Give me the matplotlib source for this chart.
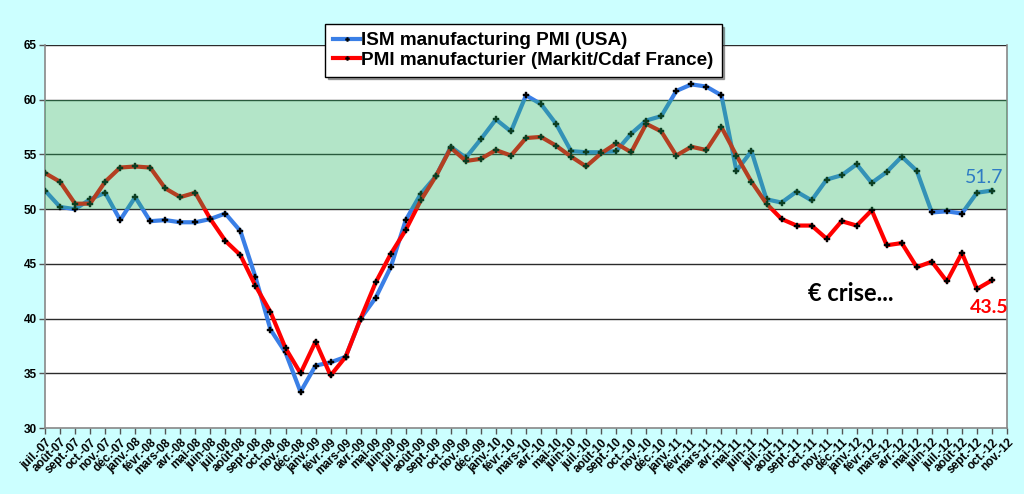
import matplotlib.pyplot as plt
import numpy as np

# month labels (French abbreviations as on the chart)
month_names = ["janv.", "févr.", "mars", "avr.", "mai", "juin",
               "juil.", "août", "sept.", "oct.", "nov.", "déc."]
tick_labels = []
for year in range(7, 13):
    for m in range(12):
        if (year == 7 and m < 6) or (year == 12 and m > 10):
            continue
        name = month_names[m]
        tick_labels.append(name + "-" + "%02d" % year)

# ISM manufacturing PMI (USA), juil.-07 .. oct.-12
ism_usa = [51.7, 50.2, 50.0, 50.9, 51.5, 49.0, 51.1, 48.9, 49.0, 48.8,
           48.8, 49.1, 49.6, 48.0, 43.8, 39.0, 36.9, 33.3, 35.7, 36.0,
           36.5, 40.0, 41.9, 44.7, 49.0, 51.4, 53.0, 55.7, 54.7, 56.4,
           58.2, 57.1, 60.4, 59.6, 57.8, 55.3, 55.2, 55.2, 55.3, 56.9,
           58.1, 58.5, 60.8, 61.4, 61.2, 60.4, 53.5, 55.3, 50.9, 50.6,
           51.6, 50.8, 52.7, 53.1, 54.1, 52.4, 53.4, 54.8, 53.5, 49.7,
           49.8, 49.6, 51.5, 51.7]

# PMI manufacturier France (Markit/Cdaf)
pmi_france = [53.3, 52.5, 50.5, 50.5, 52.5, 53.8, 53.9, 53.8, 51.9, 51.1,
              51.5, 49.1, 47.1, 45.8, 43.0, 40.6, 37.3, 35.0, 37.9, 34.8,
              36.5, 40.0, 43.3, 45.9, 48.1, 50.8, 53.0, 55.6, 54.4, 54.6,
              55.4, 54.9, 56.5, 56.6, 55.8, 54.8, 53.9, 55.1, 56.0, 55.2,
              57.8, 57.1, 54.9, 55.7, 55.4, 57.5, 54.9, 52.5, 50.5, 49.1,
              48.5, 48.5, 47.3, 48.9, 48.5, 49.9, 46.7, 46.9, 44.7, 45.2,
              43.4, 46.0, 42.7, 43.5]

bg = "#ccffff"
fig = plt.figure(figsize=(10.24, 4.94), dpi=100, facecolor=bg)
ax = fig.add_axes([45 / 1024, 66 / 494, 962 / 1024, 383 / 494])
ax.set_facecolor("white")

x_ism = np.arange(len(ism_usa))
x_fr = np.arange(len(pmi_france))

ax.plot(x_ism, ism_usa, color="#3a7fe6", lw=3, marker="P", ms=4.5,
        mfc="black", mec="black", mew=0.3, zorder=3,
        label="ISM manufacturing PMI (USA)")
ax.plot(x_fr, pmi_france, color="#ff0000", lw=3, marker="P", ms=4.5,
        mfc="black", mec="black", mew=0.3, zorder=3,
        label="PMI manufacturier (Markit/Cdaf France)")

# green band drawn over the lines, semi transparent
ax.axhspan(50, 60, color=(38 / 255, 183 / 255, 98 / 255), alpha=0.35,
           lw=0, zorder=4)

for yv in range(35, 66, 5):
    ax.axhline(yv, color="#2b2b2b", lw=1, zorder=2)

ax.set_xlim(0, len(tick_labels) - 1)
ax.set_ylim(30, 65)
ax.set_yticks(range(30, 66, 5))
ax.set_yticklabels([str(v) for v in range(30, 66, 5)],
                   fontsize=8.5, fontweight="bold", family="Liberation Sans")
ax.set_xticks(range(len(tick_labels)))
ax.set_xticklabels(tick_labels, rotation=45, ha="right",
                   rotation_mode="anchor", fontsize=8.5, fontweight="bold",
                   family="Liberation Sans")
ax.tick_params(axis="both", direction="out", length=4, width=1,
               color="#555555", pad=2)

for side in ["left", "bottom", "right"]:
    ax.spines[side].set_color("#888888")
    ax.spines[side].set_linewidth(1.2)
ax.spines["top"].set_visible(False)

# annotations
ax.text(len(ism_usa) - 1 + 0.75, 52.85, "51.7", color="#2e7bc4",
        fontsize=14, family="Lato", ha="right",
        va="center", zorder=6, clip_on=False)
ax.text(len(tick_labels) - 1 + 0.1, 41.05, "43.5", color="#ff0000",
        fontsize=14, family="Lato", fontweight="bold", ha="right",
        va="center", zorder=6, clip_on=False)
ax.text(50.75, 42.3, "€ crise...", color="black", fontsize=17,
        family="Lato", fontweight="bold", ha="left", va="center", zorder=6)

leg = fig.legend(loc="upper left", bbox_to_anchor=(325 / 1024, 1 - 24 / 494),
                 frameon=True, fancybox=False, shadow=True,
                 prop={"family": "Liberation Sans", "weight": "bold",
                       "size": 13.6},
                 handlelength=1.45, handletextpad=0.05, labelspacing=0.12,
                 borderpad=0.42, borderaxespad=0)
leg.get_frame().set_edgecolor("black")
leg.get_frame().set_linewidth(1)
leg.set_zorder(10)
for line in leg.get_lines():
    line.set_linewidth(3)
    line.set_markersize(3)

fig.savefig("out.png", dpi=100, facecolor=bg)
